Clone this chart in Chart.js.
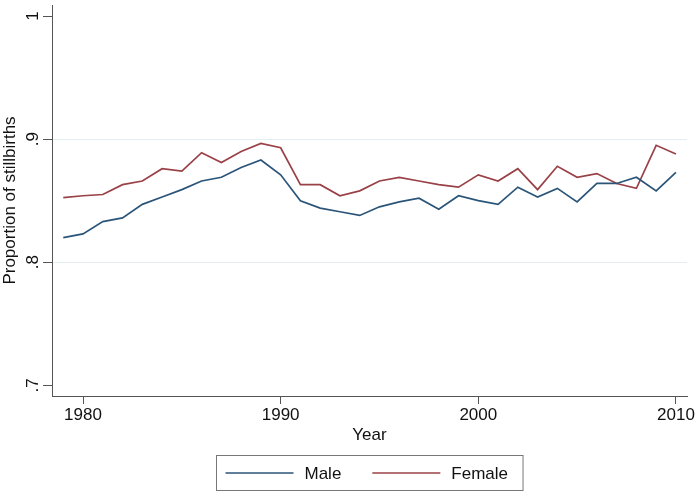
<!DOCTYPE html>
<html lang="en">
	<head>
		<meta charset="UTF-8" />
		<title>Proportion of stillbirths</title>
		<script src="https://cdn.jsdelivr.net/npm/chart.js@4/dist/chart.umd.min.js"></script>
		<style>
			body {
				margin: 0;
				background: #ffffff;
			}
			#chart-wrap {
				width: 700px;
				height: 492px;
			}
		</style>
	</head>
	<body>
		<div id="chart-wrap">
			<canvas id="stillbirth-chart" width="700" height="492"></canvas>
		</div>

		<script>
			// Data
			const years = [
				1979, 1980, 1981, 1982, 1983, 1984, 1985, 1986, 1987, 1988, 1989, 1990, 1991, 1992, 1993, 1994,
				1995, 1996, 1997, 1998, 1999, 2000, 2001, 2002, 2003, 2004, 2005, 2006, 2007, 2008, 2009, 2010,
			]
			const maleValues = [
				0.82, 0.823, 0.833, 0.836, 0.847, 0.853, 0.859, 0.866, 0.869, 0.877, 0.883, 0.871, 0.85, 0.844, 0.841, 0.838,
				0.845, 0.849, 0.852, 0.843, 0.854, 0.85, 0.847, 0.861, 0.853, 0.86, 0.849, 0.864, 0.864, 0.869, 0.858, 0.873,
			]
			const femaleValues = [
				0.8525, 0.854, 0.855, 0.863, 0.866, 0.876, 0.874, 0.889, 0.881, 0.89, 0.8965, 0.893, 0.863, 0.863, 0.854, 0.858,
				0.866, 0.869, 0.866, 0.863, 0.861, 0.871, 0.866, 0.876, 0.859, 0.878, 0.869, 0.872, 0.864, 0.86, 0.895, 0.888,
			]
			const xTicks = [1980, 1990, 2000, 2010]
			const yTicks = [0.7, 0.8, 0.9, 1]
			const yTickLabels = ['.7', '.8', '.9', '1']
			const yGridValues = [0.8, 0.9]

			const FONT = "'Liberation Sans', Arial, Helvetica, sans-serif"
			const MALE_COLOR = '#2a5579'
			const FEMALE_COLOR = '#9a4147'
			const AXIS_COLOR = '#555555'

			function toPoints(values) {
				return values.map((v, i) => ({ x: years[i], y: v }))
			}

			// Stata-like legend: boxed, centred under the plot region
			const boxLegend = {
				id: 'boxLegend',
				afterDraw(chart) {
					const ctx = chart.ctx
					const area = chart.chartArea
					const lineLen = 68
					const gapText = 11
					const gapItem = 31
					ctx.save()
					ctx.font = '17px ' + FONT
					const items = chart.data.datasets.map(ds => ({
						label: ds.label,
						color: ds.borderColor,
						width: ctx.measureText(ds.label).width,
					}))
					let total = 0
					items.forEach((it, i) => {
						total += lineLen + gapText + it.width + (i > 0 ? gapItem : 0)
					})
					const padL = 9
					const padR = 15
					const boxW = total + padL + padR
					const cx = (area.left + area.right) / 2
					const boxX = Math.round(cx - boxW / 2) + 0.5
					const boxY = 455.5
					const boxH = 35
					const midY = 473

					ctx.strokeStyle = '#777777'
					ctx.lineWidth = 1
					ctx.strokeRect(boxX, boxY, boxW, boxH)

					let x = boxX + padL
					ctx.textBaseline = 'middle'
					ctx.textAlign = 'left'
					items.forEach((it, i) => {
						if (i > 0) x += gapItem
						ctx.strokeStyle = it.color
						ctx.lineWidth = 1.4
						ctx.beginPath()
						ctx.moveTo(x, midY)
						ctx.lineTo(x + lineLen, midY)
						ctx.stroke()
						x += lineLen + gapText
						ctx.fillStyle = '#111111'
						ctx.fillText(it.label, x, midY + 1)
						x += it.width
					})
					ctx.restore()
				},
			}

			let stillbirthChart

			function initChart() {
				const ctx = document.getElementById('stillbirth-chart').getContext('2d')
				stillbirthChart = new Chart(ctx, {
					type: 'line',
					data: {
						datasets: [
							{
								label: 'Male',
								data: toPoints(maleValues),
								borderColor: MALE_COLOR,
								borderWidth: 1.7,
								pointRadius: 0,
								tension: 0,
								fill: false,
							},
							{
								label: 'Female',
								data: toPoints(femaleValues),
								borderColor: FEMALE_COLOR,
								borderWidth: 1.7,
								pointRadius: 0,
								tension: 0,
								fill: false,
							},
						],
					},
					options: {
						responsive: false,
						animation: false,
						layout: {
							padding: { left: 0, right: 13, top: 5, bottom: 46 },
						},
						plugins: {
							legend: { display: false },
							tooltip: { enabled: false },
						},
						scales: {
							x: {
								type: 'linear',
								min: 1978.43,
								max: 2010.56,
								afterBuildTicks: scale => {
									scale.ticks = xTicks.map(v => ({ value: v }))
								},
								afterFit: scale => {
									scale.height = 50
									scale.paddingLeft = 0
									scale.paddingRight = 0
								},
								ticks: {
									color: '#111111',
									font: { family: FONT, size: 17 },
									padding: 1.3,
									maxRotation: 0,
									autoSkip: false,
									callback: v => String(v),
								},
								grid: {
									drawOnChartArea: false,
									tickLength: 8,
									tickColor: AXIS_COLOR,
								},
								border: { color: AXIS_COLOR, width: 1 },
								title: {
									display: true,
									text: 'Year',
									color: '#111111',
									font: { family: FONT, size: 17 },
									padding: 0,
								},
							},
							y: {
								type: 'linear',
								min: 0.6913,
								max: 1.009,
								afterBuildTicks: scale => {
									scale.ticks = yTicks.map(v => ({ value: v }))
								},
								afterFit: scale => {
									scale.width = 52
									scale.paddingTop = 0
									scale.paddingBottom = 0
								},
								ticks: {
									color: '#111111',
									font: { family: FONT, size: 17 },
									padding: 2.4,
									minRotation: 90,
									maxRotation: 90,
									crossAlign: 'center',
									autoSkip: false,
									callback: v => {
										const i = yTicks.findIndex(t => Math.abs(t - v) < 1e-9)
										return i >= 0 ? yTickLabels[i] : ''
									},
								},
								grid: {
									color: c => (c.tick && yGridValues.some(g => Math.abs(g - c.tick.value) < 1e-9) ? '#e3eef0' : 'rgba(0,0,0,0)'),
									lineWidth: 1,
									tickLength: 9,
									tickColor: AXIS_COLOR,
								},
								border: { color: AXIS_COLOR, width: 1 },
								title: {
									display: true,
									text: 'Proportion of stillbirths',
									color: '#111111',
									font: { family: FONT, size: 17 },
									padding: 0,
								},
							},
						},
					},
					plugins: [boxLegend],
				})
			}

			initChart()
		</script>
	</body>
</html>
